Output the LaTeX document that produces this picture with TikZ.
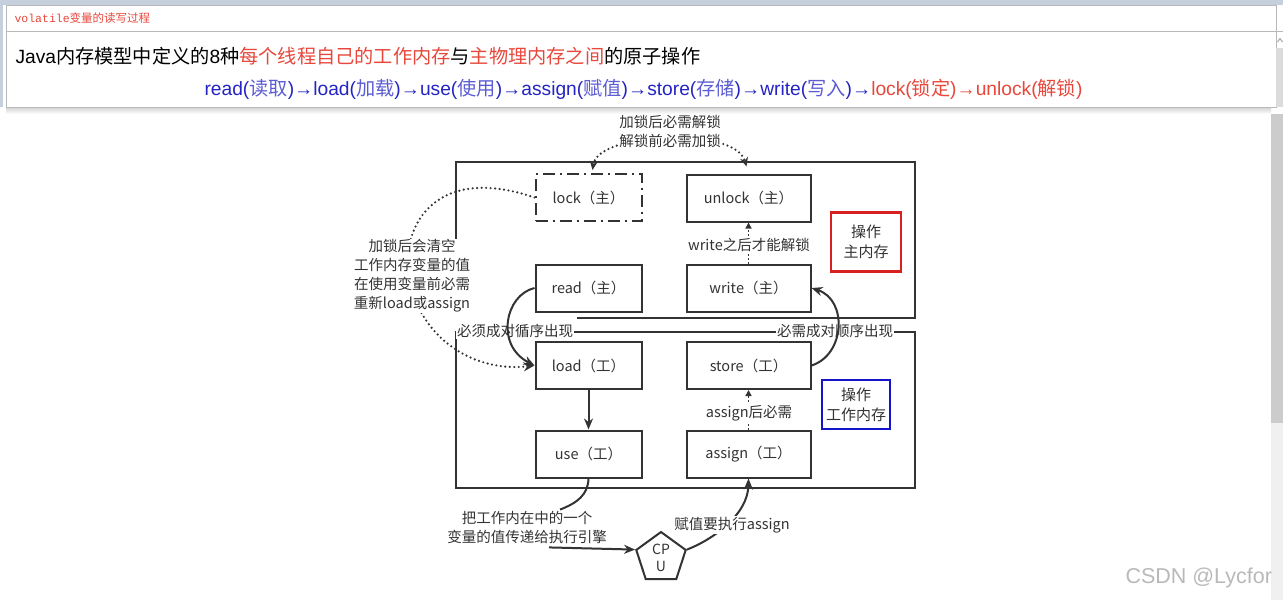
\documentclass[tikz,border=0pt]{standalone}
\usepackage{fontspec}
\setmainfont{Noto Sans CJK SC}
\newfontfamily\arial{Liberation Sans}
\newfontfamily\mono{Liberation Mono}
\newfontfamily\cjk{Noto Sans CJK SC}
\newcommand\zh[1]{\textcolor{hdlblue}{\cjk #1}}
\usetikzlibrary{arrows.meta,positioning,shapes.geometric}
\definecolor{ink}{HTML}{333333}
\definecolor{band}{HTML}{C6D0DD}
\definecolor{hdred}{HTML}{E8483C}
\definecolor{hdblue}{HTML}{2424C4}
\definecolor{hdlblue}{HTML}{5C5CD4}
\definecolor{boxred}{HTML}{D82020}
\definecolor{boxblue}{HTML}{1414C8}
\begin{document}
\begin{tikzpicture}[x=1pt,y=-1pt,
op/.style={draw=ink,line width=2pt,minimum width=106pt,minimum height=47pt,inner sep=0pt,text=ink,font=\fontsize{14.5}{17}\selectfont},
opw/.style={op,minimum width=124pt},
note/.style={fill=white,align=center,text=ink,inner sep=1pt,font=\fontsize{14.5}{19}\selectfont},
frm/.style={draw=ink,line width=2pt},
arr/.style={-{Stealth[length=11pt,width=9pt]},line width=2pt,draw=ink},
dots/.style={draw=ink,line width=2.4pt,line cap=round,dash pattern=on 0pt off 4.5pt},
thin/.style={-{Triangle[length=6pt,width=6pt]},draw=ink,line width=1.5pt,dash pattern=on 2pt off 2pt},
tag/.style={line width=2.2pt,align=center,text=ink,font=\fontsize{15}{20}\selectfont}]
\useasboundingbox (0,0) rectangle (1283,600);
\fill[white] (0,0) rectangle (1283,600);
% page chrome
\fill[band] (0,0) rectangle (1283,5);
\fill[band] (0,0) rectangle (3,107);
\shade[top color=gray!35,bottom color=white] (6,107) rectangle (1271,114);
\draw[gray!55,fill=white] (6,5) rectangle (1276,107);
\draw[gray!55] (6,31) -- (1283,31);
\fill[gray!28] (1276,48) rectangle (1283,107);
\draw[gray!70,line width=1pt] (1277.5,42) -- (1280,38.5) -- (1282.5,42);
\fill[gray!40] (1271,114) rectangle (1283,423);
\fill[gray!12] (1271,423) rectangle (1283,600);
\node[anchor=west,text=hdred,font=\fontsize{11.5}{13}\selectfont] (title) at (11,18) {{\mono volatile}变量的读写过程};
\node[anchor=west,text=black,font=\fontsize{19.2}{21}\selectfont] (line1) at (12,56) {{\arial Java}内存模型中定义的{\arial 8}种\textcolor{hdred}{每个线程自己的工作内存}与\textcolor{hdred}{主物理内存之间}的原子操作};
\node[anchor=west,font=\fontsize{19.2}{21}\selectfont] (line2) at (201,89) {\arial\color{hdblue}read(\zh{读取})→load(\zh{加载})→use(\zh{使用})→assign(\zh{赋值})→store(\zh{存储})→write(\zh{写入})→\color{hdred}lock({\cjk 锁定})→unlock({\cjk 解锁})};
% memory frames
\draw[frm] (456,240) -- (456,162) -- (915,162) -- (915,318) -- (577,318);
\draw[frm] (456,332) rectangle (915,488);
% operations
\node[op,dash pattern=on 12pt off 5pt on 2pt off 5pt] (lock) at (588.5,197.5) {lock（主）};
\node[opw] (unlock) at (748.5,198) {unlock（主）};
\node[op] (read) at (588.5,288) {read（主）};
\node[opw] (write) at (748.5,288) {write（主）};
\node[op] (load) at (588.5,365.5) {load（工）};
\node[opw] (store) at (748.5,365.5) {store（工）};
\node[op] (use) at (588.5,454) {use（工）};
\node[opw] (assign) at (748.5,454) {assign（工）};
% lock clears working copy
\draw[dots,-{Stealth[length=11pt,width=9pt]}] (lock.west) .. controls (425,160) and (395,240) .. (412,290) .. controls (428,345) and (480,372) .. (load.west);
\node[note] (clear) at (412,276) {加锁后会清空\\工作内存变量的值\\在使用变量前必需\\重新load或assign};
\draw[dots,{Stealth[length=9pt,width=8pt]}-{Stealth[length=9pt,width=8pt]}] ([xshift=4pt,yshift=3pt]lock.north) .. controls (598,132) and (735,126) .. ([xshift=-2pt,yshift=7pt]unlock.north);
\node[note] (pair) at (670,131) {加锁后必需解锁\\解锁前必需加锁};
\node[note] (inorder) at (515,331) {必须成对循序出现};
\node[note] (inorder2) at (835,331) {必需成对顺序出现};
\draw[arr] (read.west) .. controls (505,295) and (495,345) .. (load.west);
\draw[arr] (store.east) .. controls (845,355) and (848,300) .. (write.east);
\draw[thin] (write) -- (unlock);
\node[note] (unl) at (749,245) {write之后才能解锁};
\draw[thin] (assign) -- (store);
\node[note] (asg) at (749,413) {assign后必需};
\draw[arr] (load) -- (use);
% execution engine
\node[note] (pass) at (527,527) {把工作内在中的一个\\变量的值传递给执行引擎};
\node[regular polygon,regular polygon sides=5,draw=ink,line width=2pt,minimum size=52pt,inner sep=0pt,align=center,text=ink,font=\fontsize{14}{17}\selectfont] (cpu) at (661,558) {CP\\U};
\draw[ink,line width=2pt] (use.south) .. controls (588,495) and (577,503) .. ([xshift=33pt]pass.north);
\draw[arr] ([xshift=22pt,yshift=-3pt]pass.south) -- (cpu.corner 2);
\draw[arr] (cpu.corner 5) .. controls (712,540) and (748,515) .. (assign.south);
\node[note] (exec) at (732,525) {赋值要执行assign};
% memory tags
\node[tag,draw=boxred,minimum width=70pt,minimum height=59pt] (mainop) at (866,242) {操作\\主内存};
\node[tag,draw=boxblue,line width=2.6pt,minimum width=68pt,minimum height=49pt] (workop) at (856,404.5) {操作\\工作内存};
\node[anchor=west,text=gray!55,font=\arial\fontsize{21.5}{23}\selectfont] (mark) at (1122,578) {CSDN @Lycfor};
\end{tikzpicture}
\end{document}
